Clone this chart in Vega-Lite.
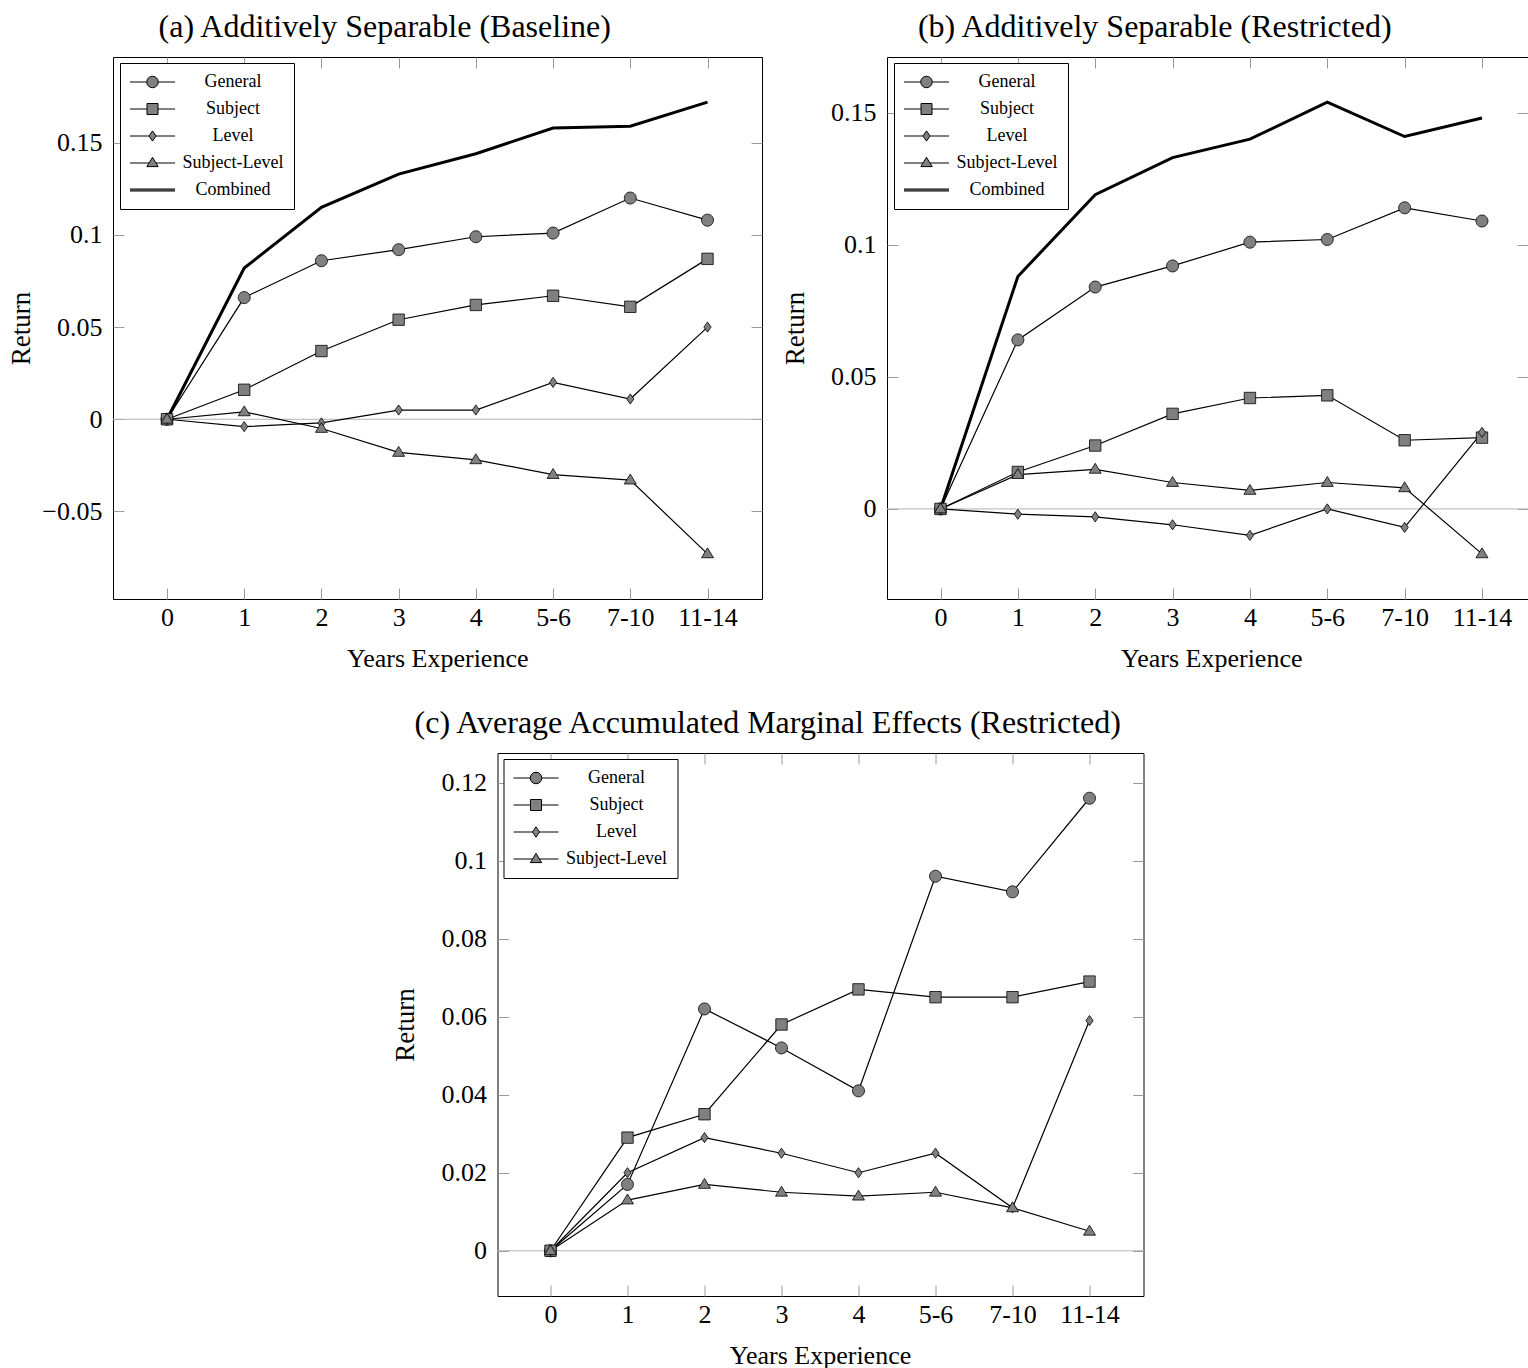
{
  "$schema": "https://vega.github.io/schema/vega-lite/v6.json",
  "background": "white",
  "padding": {"left": 6, "top": 10, "right": 0, "bottom": 0},
  "center": true,
  "spacing": 34,
  "config": {
    "font": "Liberation Serif",
    "view": {"stroke": "black", "strokeWidth": 1},
    "axis": {
      "domain": false, "grid": false, "ticks": true, "tickSize": -11, "tickColor": "#9a9a9a", "tickWidth": 1,
      "labelFont": "Liberation Serif", "labelFontSize": 26, "labelColor": "black", "labelFlush": false, "labelOverlap": false,
      "titleFont": "Liberation Serif", "titleFontSize": 26, "titleFontWeight": "normal", "titleColor": "black"
    },
    "axisX": {"labelAngle": 0, "labelPadding": 16, "titleBaseline": "alphabetic", "titleY": 67},
    "axisY": {"labelPadding": 22, "titleX": -84, "titleBaseline": "alphabetic", "titleFontSize": 27},
    "title": {"font": "Liberation Serif", "fontSize": 32, "fontWeight": "normal", "color": "black", "anchor": "middle", "frame": "bounds", "baseline": "alphabetic", "offset": 13},
    "legend": {
      "title": null, "orient": "none", "symbolSize": 100, "symbolStrokeWidth": 1, "symbolOffset": 13.5,
      "labelFont": "Liberation Serif", "labelFontSize": 18, "labelColor": "black", "labelAlign": "center", "labelBaseline": "middle",
      "labelOffset": 71.5, "rowPadding": 9, "padding": 10, "strokeColor": "black", "fillColor": "white", "cornerRadius": 0
    }
  },
  "datasets": {
    "da": [
      {"exp": "0", "series": "General", "ret": 0}, {"exp": "1", "series": "General", "ret": 0.066}, {"exp": "2", "series": "General", "ret": 0.086}, {"exp": "3", "series": "General", "ret": 0.092}, {"exp": "4", "series": "General", "ret": 0.099}, {"exp": "5-6", "series": "General", "ret": 0.101}, {"exp": "7-10", "series": "General", "ret": 0.12}, {"exp": "11-14", "series": "General", "ret": 0.108},
      {"exp": "0", "series": "Subject", "ret": 0}, {"exp": "1", "series": "Subject", "ret": 0.016}, {"exp": "2", "series": "Subject", "ret": 0.037}, {"exp": "3", "series": "Subject", "ret": 0.054}, {"exp": "4", "series": "Subject", "ret": 0.062}, {"exp": "5-6", "series": "Subject", "ret": 0.067}, {"exp": "7-10", "series": "Subject", "ret": 0.061}, {"exp": "11-14", "series": "Subject", "ret": 0.087},
      {"exp": "0", "series": "Level", "ret": 0}, {"exp": "1", "series": "Level", "ret": -0.004}, {"exp": "2", "series": "Level", "ret": -0.002}, {"exp": "3", "series": "Level", "ret": 0.005}, {"exp": "4", "series": "Level", "ret": 0.005}, {"exp": "5-6", "series": "Level", "ret": 0.02}, {"exp": "7-10", "series": "Level", "ret": 0.011}, {"exp": "11-14", "series": "Level", "ret": 0.05},
      {"exp": "0", "series": "Subject-Level", "ret": 0}, {"exp": "1", "series": "Subject-Level", "ret": 0.004}, {"exp": "2", "series": "Subject-Level", "ret": -0.005}, {"exp": "3", "series": "Subject-Level", "ret": -0.018}, {"exp": "4", "series": "Subject-Level", "ret": -0.022}, {"exp": "5-6", "series": "Subject-Level", "ret": -0.03}, {"exp": "7-10", "series": "Subject-Level", "ret": -0.033}, {"exp": "11-14", "series": "Subject-Level", "ret": -0.073},
      {"exp": "0", "series": "Combined", "ret": 0}, {"exp": "1", "series": "Combined", "ret": 0.082}, {"exp": "2", "series": "Combined", "ret": 0.115}, {"exp": "3", "series": "Combined", "ret": 0.133}, {"exp": "4", "series": "Combined", "ret": 0.144}, {"exp": "5-6", "series": "Combined", "ret": 0.158}, {"exp": "7-10", "series": "Combined", "ret": 0.159}, {"exp": "11-14", "series": "Combined", "ret": 0.172}
    ],
    "db": [
      {"exp": "0", "series": "General", "ret": 0}, {"exp": "1", "series": "General", "ret": 0.064}, {"exp": "2", "series": "General", "ret": 0.084}, {"exp": "3", "series": "General", "ret": 0.092}, {"exp": "4", "series": "General", "ret": 0.101}, {"exp": "5-6", "series": "General", "ret": 0.102}, {"exp": "7-10", "series": "General", "ret": 0.114}, {"exp": "11-14", "series": "General", "ret": 0.109},
      {"exp": "0", "series": "Subject", "ret": 0}, {"exp": "1", "series": "Subject", "ret": 0.014}, {"exp": "2", "series": "Subject", "ret": 0.024}, {"exp": "3", "series": "Subject", "ret": 0.036}, {"exp": "4", "series": "Subject", "ret": 0.042}, {"exp": "5-6", "series": "Subject", "ret": 0.043}, {"exp": "7-10", "series": "Subject", "ret": 0.026}, {"exp": "11-14", "series": "Subject", "ret": 0.027},
      {"exp": "0", "series": "Level", "ret": 0}, {"exp": "1", "series": "Level", "ret": -0.002}, {"exp": "2", "series": "Level", "ret": -0.003}, {"exp": "3", "series": "Level", "ret": -0.006}, {"exp": "4", "series": "Level", "ret": -0.01}, {"exp": "5-6", "series": "Level", "ret": 0}, {"exp": "7-10", "series": "Level", "ret": -0.007}, {"exp": "11-14", "series": "Level", "ret": 0.029},
      {"exp": "0", "series": "Subject-Level", "ret": 0}, {"exp": "1", "series": "Subject-Level", "ret": 0.013}, {"exp": "2", "series": "Subject-Level", "ret": 0.015}, {"exp": "3", "series": "Subject-Level", "ret": 0.01}, {"exp": "4", "series": "Subject-Level", "ret": 0.007}, {"exp": "5-6", "series": "Subject-Level", "ret": 0.01}, {"exp": "7-10", "series": "Subject-Level", "ret": 0.008}, {"exp": "11-14", "series": "Subject-Level", "ret": -0.017},
      {"exp": "0", "series": "Combined", "ret": 0}, {"exp": "1", "series": "Combined", "ret": 0.088}, {"exp": "2", "series": "Combined", "ret": 0.119}, {"exp": "3", "series": "Combined", "ret": 0.133}, {"exp": "4", "series": "Combined", "ret": 0.14}, {"exp": "5-6", "series": "Combined", "ret": 0.154}, {"exp": "7-10", "series": "Combined", "ret": 0.141}, {"exp": "11-14", "series": "Combined", "ret": 0.148}
    ],
    "dc": [
      {"exp": "0", "series": "General", "ret": 0}, {"exp": "1", "series": "General", "ret": 0.017}, {"exp": "2", "series": "General", "ret": 0.062}, {"exp": "3", "series": "General", "ret": 0.052}, {"exp": "4", "series": "General", "ret": 0.041}, {"exp": "5-6", "series": "General", "ret": 0.096}, {"exp": "7-10", "series": "General", "ret": 0.092}, {"exp": "11-14", "series": "General", "ret": 0.116},
      {"exp": "0", "series": "Subject", "ret": 0}, {"exp": "1", "series": "Subject", "ret": 0.029}, {"exp": "2", "series": "Subject", "ret": 0.035}, {"exp": "3", "series": "Subject", "ret": 0.058}, {"exp": "4", "series": "Subject", "ret": 0.067}, {"exp": "5-6", "series": "Subject", "ret": 0.065}, {"exp": "7-10", "series": "Subject", "ret": 0.065}, {"exp": "11-14", "series": "Subject", "ret": 0.069},
      {"exp": "0", "series": "Level", "ret": 0}, {"exp": "1", "series": "Level", "ret": 0.02}, {"exp": "2", "series": "Level", "ret": 0.029}, {"exp": "3", "series": "Level", "ret": 0.025}, {"exp": "4", "series": "Level", "ret": 0.02}, {"exp": "5-6", "series": "Level", "ret": 0.025}, {"exp": "7-10", "series": "Level", "ret": 0.011}, {"exp": "11-14", "series": "Level", "ret": 0.059},
      {"exp": "0", "series": "Subject-Level", "ret": 0}, {"exp": "1", "series": "Subject-Level", "ret": 0.013}, {"exp": "2", "series": "Subject-Level", "ret": 0.017}, {"exp": "3", "series": "Subject-Level", "ret": 0.015}, {"exp": "4", "series": "Subject-Level", "ret": 0.014}, {"exp": "5-6", "series": "Subject-Level", "ret": 0.015}, {"exp": "7-10", "series": "Subject-Level", "ret": 0.011}, {"exp": "11-14", "series": "Subject-Level", "ret": 0.005}
    ]
  },
  "vconcat": [
    {
      "spacing": 17,
      "hconcat": [
        {
          "width": 649, "height": 542,
          "title": "(a) Additively Separable (Baseline)",
          "data": {"name": "da"},
          "resolve": {"scale": {"shape": "independent", "fill": "independent", "stroke": "independent"}, "axis": {"x": "independent", "y": "independent"}},
          "layer": [
            {"data": {"values": [{}]}, "mark": {"type": "rule", "color": "#b3b3b3", "strokeWidth": 1},
             "encoding": {"y": {"datum": 0, "type": "quantitative", "scale": {"domain": [-0.0975, 0.1965], "nice": false, "zero": false}, "axis": null}}},
            {"transform": [{"filter": "datum.series !== 'Combined'"}], "mark": {"type": "line", "color": "black", "strokeWidth": 1.2},
             "encoding": {
               "x": {"field": "exp", "type": "ordinal", "sort": ["0","1","2","3","4","5-6","7-10","11-14"], "scale": {"type": "point", "range": [54, 594.5], "padding": 0}, "axis": {"orient": "bottom", "title": "Years Experience"}},
               "y": {"field": "ret", "type": "quantitative", "scale": {"domain": [-0.0975, 0.1965], "nice": false, "zero": false}, "axis": {"orient": "left", "title": "Return", "values": [-0.05, 0, 0.05, 0.1, 0.15], "format": ".2~f"}},
               "detail": {"field": "series", "type": "nominal"}}},
            {"transform": [{"filter": "datum.series === 'Combined'"}], "mark": {"type": "line", "color": "black", "strokeWidth": 3},
             "encoding": {
               "x": {"field": "exp", "type": "ordinal", "sort": ["0","1","2","3","4","5-6","7-10","11-14"], "axis": null},
               "y": {"field": "ret", "type": "quantitative", "axis": null}}},
            {"transform": [{"filter": "datum.series !== 'Combined'"}], "mark": {"type": "point", "filled": true, "fill": "#808080", "stroke": "black", "strokeWidth": 0.8, "opacity": 1, "size": 144},
             "encoding": {
               "x": {"field": "exp", "type": "ordinal", "sort": ["0","1","2","3","4","5-6","7-10","11-14"], "axis": null},
               "y": {"field": "ret", "type": "quantitative", "axis": null},
               "shape": {"field": "series", "type": "nominal", "scale": {"domain": ["General", "Subject", "Level", "Subject-Level"], "range": ["M1,0A1,1,0,1,1,-1,0A1,1,0,1,1,1,0Z", "M-0.95,-0.95L0.95,-0.95L0.95,0.95L-0.95,0.95Z", "M0,-0.85L0.6,0L0,0.85L-0.6,0Z", "M0,-1L1,0.65L-1,0.65Z"]}, "legend": null}}},
            {"transform": [{"filter": "false"}], "mark": {"type": "point", "filled": true, "strokeWidth": 1, "opacity": 1, "size": 100},
             "encoding": {
               "shape": {"field": "series", "type": "nominal", "scale": {"domain": ["General", "Subject", "Level", "Subject-Level", "Combined"], "range": ["M-4.5,0L-1.15,0M1.15,0L4.5,0M1.15,0A1.15,1.15,0,1,1,-1.15,0A1.15,1.15,0,1,1,1.15,0Z", "M-4.5,0L-1.1,0M1.1,0L4.5,0M-1.1,-1.1L1.1,-1.1L1.1,1.1L-1.1,1.1Z", "M-4.5,0L-0.72,0M0.72,0L4.5,0M0,-1.02L0.72,0L0,1.02L-0.72,0Z", "M-4.5,0L-0.7,0M0.7,0L4.5,0M0,-1.14L1.14,0.72L-1.14,0.72Z", "M-4.5,-0.2L4.5,-0.2M-4.5,0L4.5,0M-4.5,0.2L4.5,0.2"]},
                 "legend": {"orient": "none", "legendX": 7, "legendY": 6}},
               "fill": {"field": "series", "type": "nominal", "scale": {"domain": ["General", "Subject", "Level", "Subject-Level", "Combined"], "range": ["#808080", "#808080", "#808080", "#808080", "#000000"]},
                 "legend": {"orient": "none", "legendX": 7, "legendY": 6}},
               "stroke": {"field": "series", "type": "nominal", "scale": {"domain": ["General", "Subject", "Level", "Subject-Level", "Combined"], "range": ["#000000", "#000000", "#000000", "#000000", "#000000"]},
                 "legend": {"orient": "none", "legendX": 7, "legendY": 6}}}},
            {"mark": {"type": "point", "opacity": 0},
             "encoding": {
               "x": {"field": "exp", "type": "ordinal", "sort": ["0","1","2","3","4","5-6","7-10","11-14"], "axis": {"orient": "top", "labels": false, "title": null}},
               "y": {"field": "ret", "type": "quantitative", "axis": {"orient": "right", "labels": false, "title": null, "values": [-0.05, 0, 0.05, 0.1, 0.15]}}}}
          ]
        },
        {
          "width": 641, "height": 542,
          "title": "(b) Additively Separable (Restricted)",
          "data": {"name": "db"},
          "resolve": {"scale": {"shape": "independent", "fill": "independent", "stroke": "independent"}, "axis": {"x": "independent", "y": "independent"}},
          "layer": [
            {"data": {"values": [{}]}, "mark": {"type": "rule", "color": "#b3b3b3", "strokeWidth": 1},
             "encoding": {"y": {"datum": 0, "type": "quantitative", "scale": {"domain": [-0.0341, 0.1711], "nice": false, "zero": false}, "axis": null}}},
            {"transform": [{"filter": "datum.series !== 'Combined'"}], "mark": {"type": "line", "color": "black", "strokeWidth": 1.2},
             "encoding": {
               "x": {"field": "exp", "type": "ordinal", "sort": ["0","1","2","3","4","5-6","7-10","11-14"], "scale": {"type": "point", "range": [53.5, 595], "padding": 0}, "axis": {"orient": "bottom", "title": "Years Experience"}},
               "y": {"field": "ret", "type": "quantitative", "scale": {"domain": [-0.0341, 0.1711], "nice": false, "zero": false}, "axis": {"orient": "left", "title": "Return", "values": [0, 0.05, 0.1, 0.15], "format": ".2~f"}},
               "detail": {"field": "series", "type": "nominal"}}},
            {"transform": [{"filter": "datum.series === 'Combined'"}], "mark": {"type": "line", "color": "black", "strokeWidth": 3},
             "encoding": {
               "x": {"field": "exp", "type": "ordinal", "sort": ["0","1","2","3","4","5-6","7-10","11-14"], "axis": null},
               "y": {"field": "ret", "type": "quantitative", "axis": null}}},
            {"transform": [{"filter": "datum.series !== 'Combined'"}], "mark": {"type": "point", "filled": true, "fill": "#808080", "stroke": "black", "strokeWidth": 0.8, "opacity": 1, "size": 144},
             "encoding": {
               "x": {"field": "exp", "type": "ordinal", "sort": ["0","1","2","3","4","5-6","7-10","11-14"], "axis": null},
               "y": {"field": "ret", "type": "quantitative", "axis": null},
               "shape": {"field": "series", "type": "nominal", "scale": {"domain": ["General", "Subject", "Level", "Subject-Level"], "range": ["M1,0A1,1,0,1,1,-1,0A1,1,0,1,1,1,0Z", "M-0.95,-0.95L0.95,-0.95L0.95,0.95L-0.95,0.95Z", "M0,-0.85L0.6,0L0,0.85L-0.6,0Z", "M0,-1L1,0.65L-1,0.65Z"]}, "legend": null}}},
            {"transform": [{"filter": "false"}], "mark": {"type": "point", "filled": true, "strokeWidth": 1, "opacity": 1, "size": 100},
             "encoding": {
               "shape": {"field": "series", "type": "nominal", "scale": {"domain": ["General", "Subject", "Level", "Subject-Level", "Combined"], "range": ["M-4.5,0L-1.15,0M1.15,0L4.5,0M1.15,0A1.15,1.15,0,1,1,-1.15,0A1.15,1.15,0,1,1,1.15,0Z", "M-4.5,0L-1.1,0M1.1,0L4.5,0M-1.1,-1.1L1.1,-1.1L1.1,1.1L-1.1,1.1Z", "M-4.5,0L-0.72,0M0.72,0L4.5,0M0,-1.02L0.72,0L0,1.02L-0.72,0Z", "M-4.5,0L-0.7,0M0.7,0L4.5,0M0,-1.14L1.14,0.72L-1.14,0.72Z", "M-4.5,-0.2L4.5,-0.2M-4.5,0L4.5,0M-4.5,0.2L4.5,0.2"]},
                 "legend": {"orient": "none", "legendX": 7, "legendY": 6}},
               "fill": {"field": "series", "type": "nominal", "scale": {"domain": ["General", "Subject", "Level", "Subject-Level", "Combined"], "range": ["#808080", "#808080", "#808080", "#808080", "#000000"]},
                 "legend": {"orient": "none", "legendX": 7, "legendY": 6}},
               "stroke": {"field": "series", "type": "nominal", "scale": {"domain": ["General", "Subject", "Level", "Subject-Level", "Combined"], "range": ["#000000", "#000000", "#000000", "#000000", "#000000"]},
                 "legend": {"orient": "none", "legendX": 7, "legendY": 6}}}},
            {"mark": {"type": "point", "opacity": 0},
             "encoding": {
               "x": {"field": "exp", "type": "ordinal", "sort": ["0","1","2","3","4","5-6","7-10","11-14"], "axis": {"orient": "top", "labels": false, "title": null}},
               "y": {"field": "ret", "type": "quantitative", "axis": {"orient": "right", "labels": false, "title": null, "values": [0, 0.05, 0.1, 0.15]}}}}
          ]
        }
      ]
    },
    {
      "width": 646, "height": 543,
      "title": "(c) Average Accumulated Marginal Effects (Restricted)",
      "data": {"name": "dc"},
      "resolve": {"scale": {"shape": "independent", "fill": "independent", "stroke": "independent"}, "axis": {"x": "independent", "y": "independent"}},
      "layer": [
        {"data": {"values": [{}]}, "mark": {"type": "rule", "color": "#b3b3b3", "strokeWidth": 1},
         "encoding": {"y": {"datum": 0, "type": "quantitative", "scale": {"domain": [-0.0116, 0.1276], "nice": false, "zero": false}, "axis": null}}},
        {"mark": {"type": "line", "color": "black", "strokeWidth": 1.2},
         "encoding": {
           "x": {"field": "exp", "type": "ordinal", "sort": ["0","1","2","3","4","5-6","7-10","11-14"], "scale": {"type": "point", "range": [53, 592], "padding": 0}, "axis": {"orient": "bottom", "title": "Years Experience"}},
           "y": {"field": "ret", "type": "quantitative", "scale": {"domain": [-0.0116, 0.1276], "nice": false, "zero": false}, "axis": {"orient": "left", "title": "Return", "values": [0, 0.02, 0.04, 0.06, 0.08, 0.1, 0.12], "format": ".2~f"}},
           "detail": {"field": "series", "type": "nominal"}}},
        {"mark": {"type": "point", "filled": true, "fill": "#808080", "stroke": "black", "strokeWidth": 0.8, "opacity": 1, "size": 144},
         "encoding": {
           "x": {"field": "exp", "type": "ordinal", "sort": ["0","1","2","3","4","5-6","7-10","11-14"], "axis": null},
           "y": {"field": "ret", "type": "quantitative", "axis": null},
           "shape": {"field": "series", "type": "nominal", "scale": {"domain": ["General", "Subject", "Level", "Subject-Level"], "range": ["M1,0A1,1,0,1,1,-1,0A1,1,0,1,1,1,0Z", "M-0.95,-0.95L0.95,-0.95L0.95,0.95L-0.95,0.95Z", "M0,-0.85L0.6,0L0,0.85L-0.6,0Z", "M0,-1L1,0.65L-1,0.65Z"]}, "legend": null}}},
        {"transform": [{"filter": "false"}], "mark": {"type": "point", "filled": true, "strokeWidth": 1, "opacity": 1, "size": 100},
         "encoding": {
           "shape": {"field": "series", "type": "nominal", "scale": {"domain": ["General", "Subject", "Level", "Subject-Level"], "range": ["M-4.5,0L-1.15,0M1.15,0L4.5,0M1.15,0A1.15,1.15,0,1,1,-1.15,0A1.15,1.15,0,1,1,1.15,0Z", "M-4.5,0L-1.1,0M1.1,0L4.5,0M-1.1,-1.1L1.1,-1.1L1.1,1.1L-1.1,1.1Z", "M-4.5,0L-0.72,0M0.72,0L4.5,0M0,-1.02L0.72,0L0,1.02L-0.72,0Z", "M-4.5,0L-0.7,0M0.7,0L4.5,0M0,-1.14L1.14,0.72L-1.14,0.72Z"]},
             "legend": {"orient": "none", "legendX": 6, "legendY": 6}},
           "fill": {"field": "series", "type": "nominal", "scale": {"domain": ["General", "Subject", "Level", "Subject-Level"], "range": ["#808080", "#808080", "#808080", "#808080"]},
             "legend": {"orient": "none", "legendX": 6, "legendY": 6}},
           "stroke": {"field": "series", "type": "nominal", "scale": {"domain": ["General", "Subject", "Level", "Subject-Level"], "range": ["#000000", "#000000", "#000000", "#000000"]},
             "legend": {"orient": "none", "legendX": 6, "legendY": 6}}}},
        {"mark": {"type": "point", "opacity": 0},
         "encoding": {
           "x": {"field": "exp", "type": "ordinal", "sort": ["0","1","2","3","4","5-6","7-10","11-14"], "axis": {"orient": "top", "labels": false, "title": null}},
           "y": {"field": "ret", "type": "quantitative", "axis": {"orient": "right", "labels": false, "title": null, "values": [0, 0.02, 0.04, 0.06, 0.08, 0.1, 0.12]}}}}
      ]
    }
  ]
}
